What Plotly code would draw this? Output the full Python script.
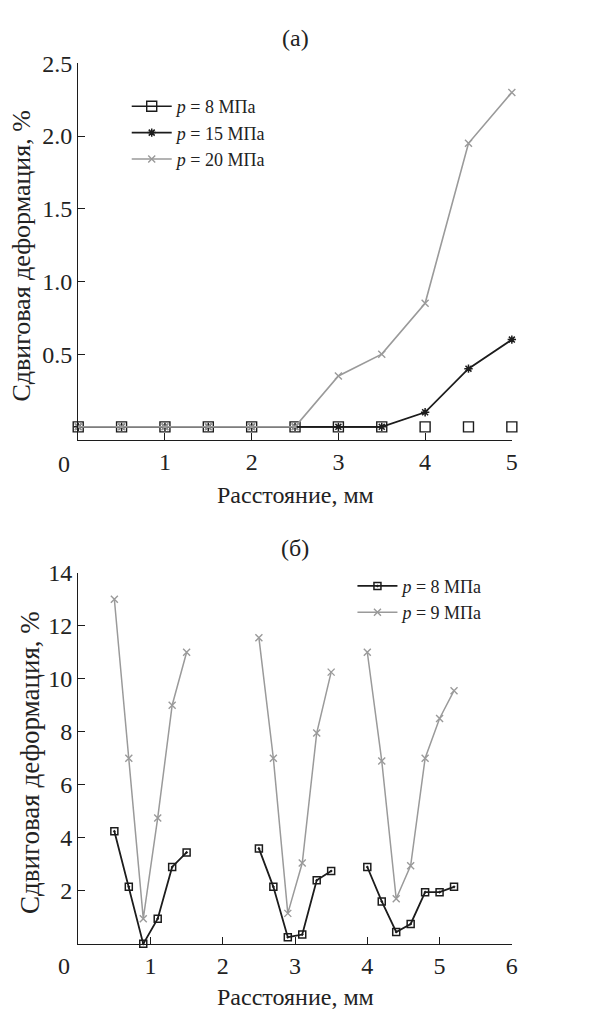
import plotly.graph_objects as go

# ---- panel (a): shear strain vs distance at three pressures ----
dist_a = [0, 0.5, 1, 1.5, 2, 2.5, 3, 3.5, 4, 4.5, 5]
strain_p8 = [0, 0, 0, 0, 0, 0, 0, 0, 0, 0, 0]
strain_p15 = [0, 0, 0, 0, 0, 0, 0, 0, 0.1, 0.4, 0.6]
strain_p20 = [0, 0, 0, 0, 0, 0, 0.35, 0.5, 0.85, 1.95, 2.3]
ticks_a_x = [1, 2, 3, 4, 5]
ticks_a_y = [0.5, 1.0, 1.5, 2.0, 2.5]

# ---- panel (б): three measurement zones, two pressures ----
dist_b = [
    [0.5, 0.7, 0.9, 1.1, 1.3, 1.5],
    [2.5, 2.7, 2.9, 3.1, 3.3, 3.5],
    [4.0, 4.2, 4.4, 4.6, 4.8, 5.0, 5.2],
]
strain_b_p8 = [
    [4.25, 2.15, 0.0, 0.95, 2.9, 3.45],
    [3.6, 2.15, 0.25, 0.35, 2.4, 2.75],
    [2.9, 1.6, 0.45, 0.75, 1.95, 1.95, 2.15],
]
strain_b_p9 = [
    [13.0, 7.0, 0.95, 4.75, 9.0, 11.0],
    [11.55, 7.0, 1.15, 3.05, 7.95, 10.25],
    [11.0, 6.9, 1.7, 2.95, 7.0, 8.5, 9.55],
]
ticks_b_x = [1, 2, 3, 4, 5, 6]
ticks_b_y = [2, 4, 6, 8, 10, 12, 14]

BLACK = "#1c1c1c"
GRAY = "#9a9a9a"
SERIF = "Liberation Serif"

fig = go.Figure()

# p = 8 MPa: line only where it is not overlaid, open squares everywhere
n_line = 8
fig.add_trace(go.Scatter(
    x=dist_a[:n_line], y=strain_p8[:n_line], mode="lines+markers",
    name="<i>p</i> = 8 МПа", legend="legend", legendgroup="a8",
    line=dict(color=BLACK, width=1.6),
    marker=dict(symbol="square-open", size=10, color=BLACK, line=dict(width=1.4)),
    xaxis="x", yaxis="y", cliponaxis=False,
))
fig.add_trace(go.Scatter(
    x=dist_a[n_line:], y=strain_p8[n_line:], mode="markers",
    showlegend=False, legendgroup="a8",
    marker=dict(symbol="square-open", size=10, color=BLACK, line=dict(width=1.4)),
    xaxis="x", yaxis="y", cliponaxis=False,
))
fig.add_trace(go.Scatter(
    x=dist_a, y=strain_p15, mode="lines+markers",
    name="<i>p</i> = 15 МПа", legend="legend",
    line=dict(color=BLACK, width=1.8),
    marker=dict(symbol="asterisk-open", size=7, color=BLACK, line=dict(width=1.5, color=BLACK)),
    xaxis="x", yaxis="y", cliponaxis=False,
))
fig.add_trace(go.Scatter(
    x=dist_a, y=strain_p20, mode="lines+markers",
    name="<i>p</i> = 20 МПа", legend="legend",
    line=dict(color=GRAY, width=1.6),
    marker=dict(symbol="x-thin-open", size=7, color=GRAY, line=dict(width=1.4, color=GRAY)),
    xaxis="x", yaxis="y", cliponaxis=False,
))

# panel (б): each zone is a separate polyline
for i, (xs, ys) in enumerate(zip(dist_b, strain_b_p8)):
    fig.add_trace(go.Scatter(
        x=xs, y=ys, mode="lines+markers",
        name="<i>p</i> = 8 МПа", legend="legend2", legendgroup="b8",
        showlegend=(i == 0),
        line=dict(color=BLACK, width=1.8),
        marker=dict(symbol="square-open-dot", size=7, color=BLACK, line=dict(width=1.5)),
        xaxis="x2", yaxis="y2", cliponaxis=False,
    ))
for i, (xs, ys) in enumerate(zip(dist_b, strain_b_p9)):
    fig.add_trace(go.Scatter(
        x=xs, y=ys, mode="lines+markers",
        name="<i>p</i> = 9 МПа", legend="legend2", legendgroup="b9",
        showlegend=(i == 0),
        line=dict(color=GRAY, width=1.5),
        marker=dict(symbol="x-thin-open", size=7, color=GRAY, line=dict(width=1.4, color=GRAY)),
        xaxis="x2", yaxis="y2", cliponaxis=False,
    ))

W, H = 602, 1010
def px_x(p):
    return p / W
def px_y(p):
    return 1 - p / H

axis_common = dict(
    showline=True, linecolor=BLACK, linewidth=1.3, mirror=False,
    ticks="inside", ticklen=7, tickwidth=1.3, tickcolor=BLACK,
    showgrid=False, zeroline=False,
    tickfont=dict(family=SERIF, size=24, color="#222"),
)

fig.update_layout(
    width=W, height=H,
    margin=dict(l=0, r=0, t=0, b=0),
    paper_bgcolor="white", plot_bgcolor="white",
    font=dict(family=SERIF, color="#222"),
    xaxis=dict(axis_common, domain=[px_x(79), px_x(517)], range=[0, 5],
               tickvals=ticks_a_x, anchor="y"),
    yaxis=dict(axis_common, domain=[px_y(433), px_y(51)], range=[-0.0935, 2.5],
               tickvals=ticks_a_y, tickformat=".1f", anchor="x"),
    xaxis2=dict(axis_common, domain=[px_x(79), px_x(517)], range=[0, 6],
                tickvals=ticks_b_x, anchor="y2"),
    yaxis2=dict(axis_common, domain=[px_y(943), px_y(567)], range=[0, 14],
                tickvals=ticks_b_y, anchor="x2"),
    legend=dict(
        x=px_x(128), y=px_y(76), xanchor="left", yanchor="top",
        bgcolor="rgba(0,0,0,0)", font=dict(family=SERIF, size=18, color="#222"),
        tracegroupgap=0, itemwidth=40,
    ),
    legend2=dict(
        x=px_x(356), y=px_y(562), xanchor="left", yanchor="top",
        bgcolor="rgba(0,0,0,0)", font=dict(family=SERIF, size=18, color="#222"),
        tracegroupgap=0, itemwidth=40,
    ),
    showlegend=True,
)

ann = dict(xref="paper", yref="paper", showarrow=False,
           xanchor="center", yanchor="middle",
           font=dict(family=SERIF, size=24, color="#222"))
annotations = [
    dict(ann, text="(a)", x=px_x(298), y=px_y(25)),
    dict(ann, text="(б)", x=px_x(298), y=px_y(542)),
    dict(ann, text="Расстояние, мм", x=px_x(298), y=px_y(488)),
    dict(ann, text="Расстояние, мм", x=px_x(298), y=px_y(997)),
    dict(ann, text="Сдвиговая деформация, %", x=px_x(22), y=px_y(246), textangle=-90,
         font=dict(family=SERIF, size=26, color="#222")),
    dict(ann, text="Сдвиговая деформация, %", x=px_x(31), y=px_y(759), textangle=-90,
         font=dict(family=SERIF, size=27, color="#222")),
    dict(ann, text="0", x=px_x(65), y=px_y(457)),
    dict(ann, text="0", x=px_x(65), y=px_y(965)),
]
fig.update_layout(annotations=annotations)

fig.write_html("out.html")
